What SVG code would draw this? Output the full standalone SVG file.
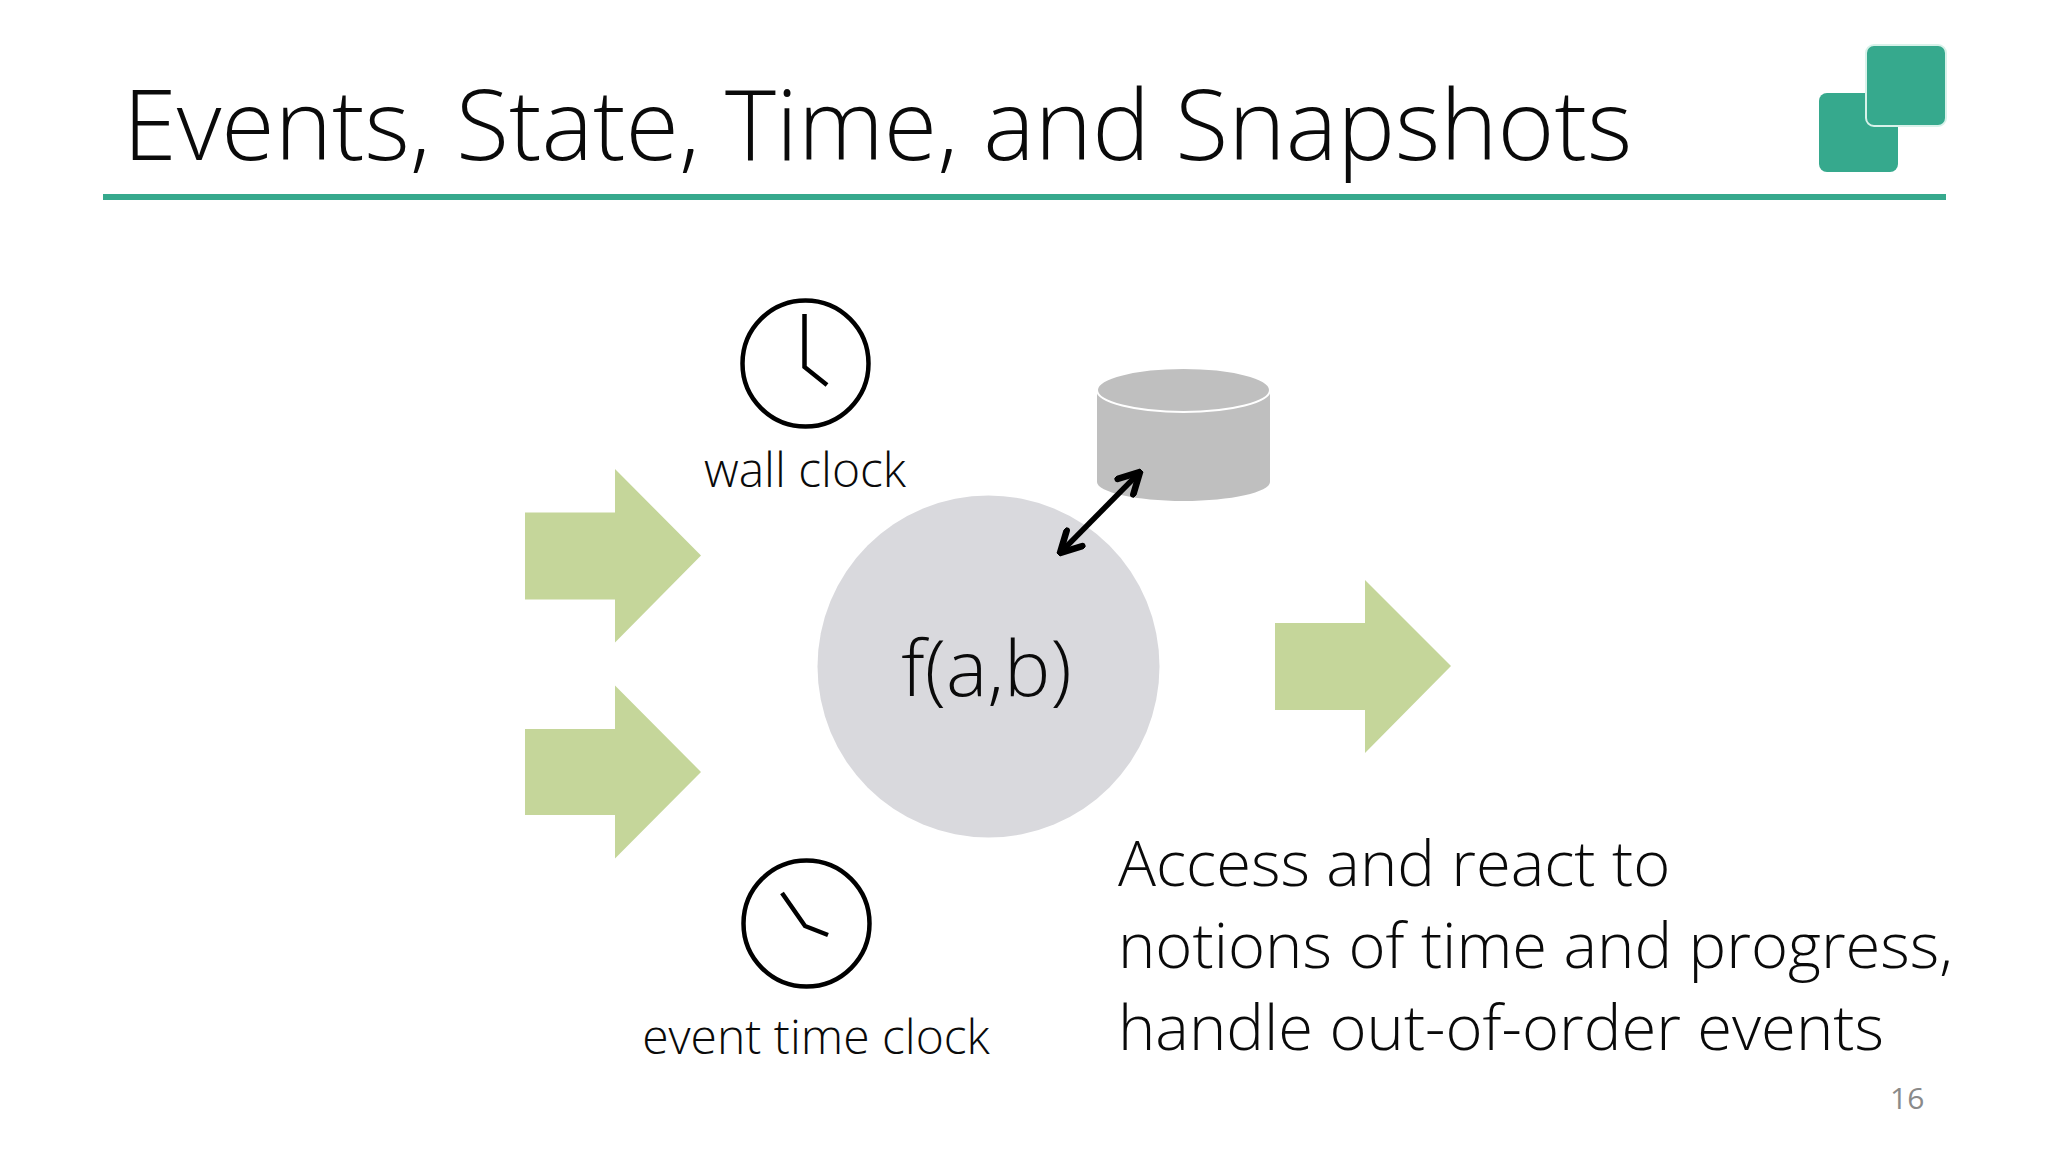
<svg xmlns="http://www.w3.org/2000/svg" width="2048" height="1152" viewBox="0 0 2048 1152">
<style>
text{font-family:"Open Sans","Noto Sans","Liberation Sans",sans-serif;font-weight:300;fill:#0a0a0a}
.t{font-size:97.2px}
.l{font-size:48px}
.b{font-size:63.3px}
.g{fill:#c5d69a}
.c{fill:none;stroke:#000;stroke-width:4.5}
.h{fill:none;stroke:#000;stroke-width:4.5;stroke-linejoin:miter}
.s{fill:#36a98d}
</style>
<defs>
<marker id="ah" viewBox="0 0 10 10" refX="9" refY="5" markerWidth="5" markerHeight="5" orient="auto-start-reverse" markerUnits="strokeWidth">
<path d="M1.5 1 L9 5 L1.5 9" fill="none" stroke="#000" stroke-width="2.4" stroke-linecap="round"/>
</marker>
</defs>
<rect width="2048" height="1152" fill="#fff"/>
<g id="title"><text class="t" x="123" y="160">Events, State, Time, and Snapshots</text><rect x="103" y="194" width="1843" height="6" class="s"/></g>
<g id="logo">
<rect x="1819" y="93" width="79" height="79" rx="8" class="s"/>
<rect x="1866" y="45" width="80" height="81" rx="8" class="s" stroke="#d8f2ea" stroke-width="2"/>
</g>
<g id="input1"><path class="g" d="M525 512.500H615V469L701 555.500L615 642.500V599.500H525Z"/></g>
<g id="input2"><path class="g" d="M525 729H615V685.500L701 772L615 858.500V815H525Z"/></g>
<g id="output"><path class="g" d="M1275 623H1365V580L1451 666L1365 753V710H1275Z"/></g>
<g id="function"><circle cx="988.500" cy="666.500" r="171" fill="#d9d9dd"/><text x="986.500" y="696" font-size="78" text-anchor="middle">f(a,b)</text></g>
<g id="store">
<path d="M1097 390V482C1097 492 1136 501 1183.500 501S1270 492 1270 482V390Z" fill="#bfbfbf"/>
<ellipse cx="1183.500" cy="390" rx="86.500" ry="22" fill="#bfbfbf" stroke="#fff" stroke-width="2"/>
</g>
<g id="wall-clock">
<circle class="c" cx="805.500" cy="363.500" r="63"/>
<path class="h" d="M804.500 314V367L827 385"/>
<text class="l" x="805" y="487" text-anchor="middle">wall clock</text>
</g>
<g id="event-clock">
<circle class="c" cx="806.500" cy="923.500" r="63"/>
<path class="h" d="M782 893L805 926L828 935"/>
<text class="l" x="816" y="1054" text-anchor="middle">event time clock</text>
</g>
<g id="connectors">
<line x1="1060" y1="553" x2="1140" y2="472" stroke="#000" stroke-width="5.500" marker-start="url(#ah)" marker-end="url(#ah)"/>
</g>
<g id="caption">
<text class="b" x="1118" y="886">Access and react to</text>
<text class="b" x="1118" y="968">notions of time and progress,</text>
<text class="b" x="1118" y="1050">handle out-of-order events</text>
</g>
<g id="page"><text x="1890" y="1109" font-size="30" style="fill:#8a8a8a;font-weight:400">16</text></g>
</svg>
